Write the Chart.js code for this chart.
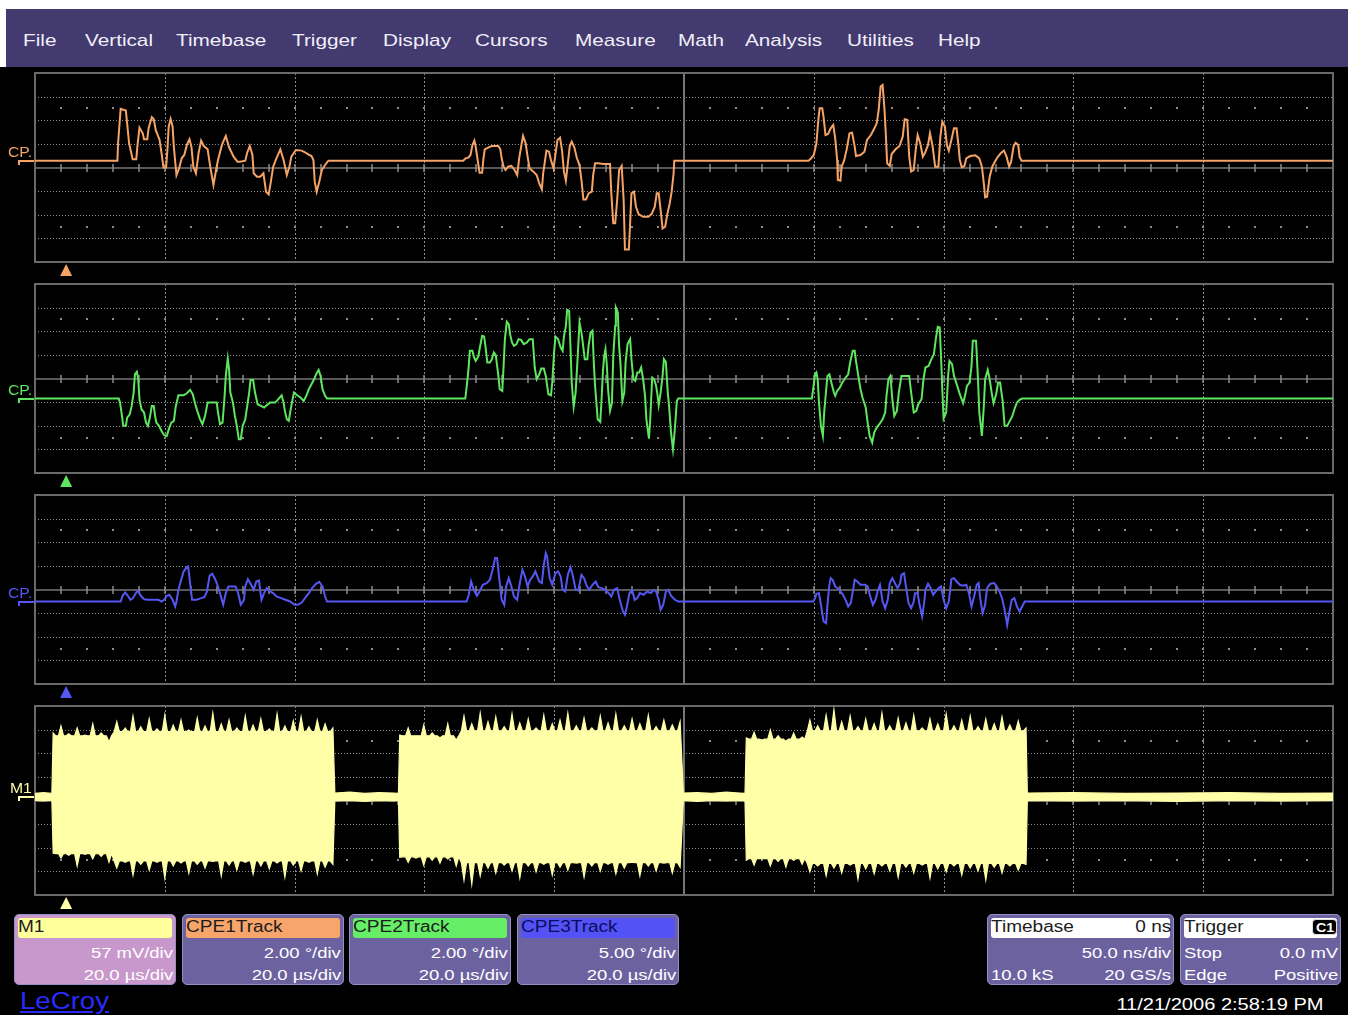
<!DOCTYPE html>
<html>
<head>
<meta charset="utf-8">
<title>LeCroy – CPE tracking</title>
<script src="https://cdn.jsdelivr.net/npm/chart.js@4.4.1/dist/chart.umd.min.js"></script>
<style>
  html, body { margin:0; padding:0; background:#000; }
  body { position:relative; width:1348px; height:1015px; overflow:hidden; font-family:"Liberation Sans", Arial, sans-serif; }
  .abs { position:absolute; }
  .t { position:absolute; white-space:nowrap; }
  #topband { left:0; top:0; width:1348px; height:9px; background:#fff; }
  #leftband { left:0; top:9px; width:6px; height:58px; background:#fff; }
  #menubar { left:6px; top:9px; width:1342px; height:58px; background:#433a70; }
  .box { position:absolute; top:914px; height:71px; border-radius:5px; background:#6c62a0; border:1px solid #9790c4; box-sizing:border-box; }
  .hdr { position:absolute; left:3px; right:3px; top:3px; height:20px; border-radius:3px; }
  .panel { position:absolute; left:0; }
  #c1 { position:absolute; left:1312px; top:919px; width:25px; height:16px; border-radius:4px; background:#000; border:1px solid #ddd; box-sizing:border-box; }
</style>
</head>
<body>
<div id="topband" class="abs"></div>
<div id="leftband" class="abs"></div>
<div id="menubar" class="abs"></div>

<div class="box" style="left:14px;width:162px;background:#c898cc;"><div class="hdr" style="background:#ffff9c;"></div></div>
<div class="box" style="left:182px;width:162px;"><div class="hdr" style="background:#f7a56b;"></div></div>
<div class="box" style="left:349px;width:162px;"><div class="hdr" style="background:#66ee66;"></div></div>
<div class="box" style="left:517px;width:162px;"><div class="hdr" style="background:#5252f5;"></div></div>
<div class="box" style="left:987px;width:187px;"><div class="hdr" style="background:#ffffff;"></div></div>
<div class="box" style="left:1180px;width:161px;"><div class="hdr" style="background:#ffffff;"></div></div>
<div id="c1"></div>

<script>
// ---- Menu and readout text -------------------------------------------------
const menuItems = ["File", "Vertical", "Timebase", "Trigger", "Display", "Cursors", "Measure", "Math", "Analysis", "Utilities", "Help"];
const menuX     = [22.5, 85, 176, 292, 383, 475, 574.5, 678, 745, 847, 938];

const traceLabels = ["M1", "CPE1Track", "CPE2Track", "CPE3Track"];
const verticalScales = ["57 mV/div", "2.00 °/div", "2.00 °/div", "5.00 °/div"];
const horizontalScales = ["20.0 µs/div", "20.0 µs/div", "20.0 µs/div", "20.0 µs/div"];
const timestamp = "11/21/2006 2:58:19 PM";

// ---- Waveform data: time in µs (0..200, 20 µs/div) ---------------------------
// CPE1Track, degrees (2.00 °/div)
const cpe1Track = [
  [0,0.58],[12.7,0.58],[12.8,2.05],[13.2,4.96],[14.0,4.82],[14.5,2.05],[15.05,0.69],[15.6,0.69],[15.8,1.91],[16.1,3.38],
  [16.6,2.9],[16.8,2.39],[17.3,2.39],[17.5,3.32],[18.0,4.25],[18.3,4.08],[18.6,3.18],[19.2,2.33],[19.5,1.2],[19.8,0.01],
  [20.2,0.01],[20.4,1.48],[20.6,3.46],[20.9,4.11],[21.2,3.46],[21.4,1.71],[21.8,-0.64],[22.2,-0.07],[22.6,0.78],[23.0,1.06],
  [23.4,1.91],[23.8,2.39],[24.1,1.77],[24.4,0.07],[24.8,-0.49],[25.2,1.2],[25.6,2.27],[26.0,1.82],[26.6,1.54],[27.0,0.07],
  [27.5,-1.48],[27.9,-0.21],[28.2,0.64],[28.8,1.91],[29.4,2.67],[29.9,1.71],[30.6,0.92],[31.2,0.49],[31.6,0.49],[32.4,0.58],
  [32.7,1.26],[33.1,1.82],[33.5,1.06],[33.7,-0.49],[34.2,-0.78],[34.7,-0.78],[35.2,-0.49],[35.6,-2.05],[36.0,-2.27],[36.3,-1.34],
  [36.7,0.07],[37.2,0.78],[37.8,1.54],[38.3,0.64],[38.8,-0.64],[39.2,0.07],[39.5,0.92],[40.2,1.48],[41.1,1.43],[41.6,1.29],
  [42.1,1.12],[42.6,0.97],[42.9,0.64],[43.1,-1.2],[43.4,-2.05],[43.8,-1.2],[44.2,-0.21],[44.7,0.21],[45.2,0.58],
  [66.0,0.58],[66.3,0.75],[66.8,0.86],[67.1,1.06],[67.4,1.91],[67.7,2.27],[67.9,1.77],[68.2,0.64],[68.5,-0.44],[68.9,-0.44],
  [69.1,0.78],[69.3,1.54],[69.9,1.71],[70.4,1.82],[71.4,1.82],[71.7,1.54],[71.9,0.78],[72.2,0.07],[72.5,-0.21],[72.9,0.07],
  [73.4,0.13],[73.9,-0.21],[74.3,-0.64],[74.6,0.78],[75.0,2.05],[75.2,2.67],[75.6,2.05],[75.9,0.92],[76.2,-0.07],[76.8,-0.35],
  [77.3,-0.64],[77.7,-1.34],[78.1,-1.85],[78.3,-0.49],[78.6,0.64],[78.8,1.43],[79.2,1.34],[79.5,0.64],[79.9,-0.07],[80.2,1.14],
  [80.5,2.33],[80.9,2.53],[81.2,1.48],[81.5,-0.35],[81.8,-1.12],[82.1,0.35],[82.4,1.82],[82.7,2.19],[83.1,1.71],[83.5,0.78],
  [83.9,0.21],[84.2,-1.06],[84.5,-2.70],[84.9,-2.70],[85.3,-2.19],[85.8,-2.05],[86.0,-0.64],[86.3,0.35],[86.8,0.35],[87.6,0.30],
  [88.6,0.30],[88.8,-2.19],[89.1,-4.73],[89.4,-4.73],[89.7,-2.75],[90.0,-0.21],[90.4,0.13],[90.7,-2.75],[90.9,-6.94],[91.5,-6.94],
  [91.7,-4.73],[91.9,-2.19],[92.3,-2.05],[92.6,-3.32],[93.0,-3.94],[93.7,-4.17],[94.5,-4.17],[95.0,-3.94],[95.5,-3.32],[95.8,-2.19],
  [96.1,-2.19],[96.4,-3.60],[96.7,-5.16],[97.1,-5.01],[97.4,-4.03],[97.8,-3.04],[98.1,-2.05],[98.4,-0.49],[98.5,0.58],
  [119.2,0.58],[119.6,0.78],[120.0,1.06],[120.4,2.05],[120.7,4.03],[120.9,5.01],[121.3,5.01],[121.5,4.31],[121.8,2.75],[122.2,2.84],
  [122.6,3.32],[123.0,3.60],[123.3,2.47],[123.6,0.64],[123.7,-1.06],[124.1,-1.12],[124.3,0.07],[124.7,0.64],[125.1,1.62],[125.5,2.90],
  [125.9,2.95],[126.3,1.77],[126.5,0.97],[127.2,1.06],[127.8,1.34],[128.2,2.33],[128.8,2.75],[129.2,3.18],[129.7,3.74],[130.0,4.87],
  [130.3,6.85],[130.6,6.99],[130.9,4.87],[131.1,2.75],[131.3,0.35],[131.7,0.13],[132.0,1.14],[132.6,1.54],[133.2,1.82],[133.7,2.61],
  [134.0,4.08],[134.4,4.03],[134.7,0.92],[135.0,-0.35],[135.4,-0.21],[135.7,1.48],[136.0,2.75],[136.4,2.05],[136.8,0.92],[137.1,1.20],
  [137.6,1.91],[137.9,2.90],[138.3,1.82],[138.7,0.07],[139.2,0.07],[139.5,2.61],[139.8,3.88],[140.2,3.46],[140.5,1.91],[140.8,1.43],
  [141.2,2.33],[141.6,3.32],[142.0,3.32],[142.3,1.82],[142.5,0.64],[142.8,0.01],[143.2,0.13],[143.5,0.78],[144.1,0.97],[144.9,1.03],
  [145.5,0.78],[145.9,0.07],[146.2,-1.34],[146.4,-2.53],[146.7,-2.47],[147.1,-0.78],[147.5,0.07],[147.9,0.49],[148.3,0.86],[148.8,1.20],
  [149.3,1.43],[149.7,0.92],[150.1,0.07],[150.4,0.49],[150.8,1.82],[151.1,2.10],[151.5,1.91],[151.7,0.92],[152.0,0.58],[200,0.58]
];

// CPE2Track, degrees (2.00 °/div)
const cpe2Track = [
  [0,-1.70],[12.9,-1.70],[13.1,-2.04],[13.4,-3.17],[13.6,-4.01],[14.0,-4.01],[14.2,-3.31],[14.6,-3.03],[14.9,-2.32],[15.2,-1.19],
  [15.4,0.36],[15.7,0.56],[15.9,-0.06],[16.1,-1.75],[16.4,-2.60],[16.8,-2.88],[17.1,-3.73],[17.4,-4.01],[17.7,-3.31],[18.0,-2.32],
  [18.3,-2.32],[18.5,-3.17],[18.7,-3.73],[19.1,-4.01],[19.5,-4.44],[19.9,-4.80],[20.3,-4.86],[20.7,-4.16],[21.0,-3.73],[21.4,-3.59],
  [21.7,-2.32],[22.1,-1.42],[22.9,-1.42],[23.4,-1.25],[23.9,-0.96],[24.3,-1.33],[24.7,-2.18],[25.0,-2.74],[25.4,-3.39],[25.8,-3.87],
  [26.2,-3.17],[26.6,-2.04],[27.2,-2.04],[28.0,-2.04],[28.2,-2.88],[28.5,-3.87],[28.9,-3.73],[29.2,-1.61],[29.4,0.22],[29.7,1.69],
  [29.9,0.79],[30.1,-1.19],[30.5,-2.04],[30.8,-3.17],[31.1,-4.01],[31.4,-5.14],[31.7,-5.14],[32.0,-4.01],[32.4,-3.45],[32.7,-2.32],
  [33.0,-1.19],[33.2,-0.12],[33.6,-0.12],[33.9,-1.19],[34.3,-2.18],[34.8,-2.32],[35.3,-2.46],[35.7,-2.26],[36.2,-2.04],[37.0,-2.04],
  [37.5,-1.75],[38.0,-1.42],[38.3,-2.04],[38.5,-2.74],[38.8,-3.45],[39.1,-3.59],[39.4,-2.60],[39.7,-1.75],[39.9,-1.19],[40.4,-1.42],
  [40.9,-1.61],[41.4,-1.90],[41.8,-1.47],[42.2,-0.90],[42.6,-0.48],[43.0,-0.06],[43.4,0.45],[43.7,0.73],[44.0,0.22],[44.3,-0.90],
  [44.7,-1.47],[45.0,-1.70],
  [66.3,-1.70],[66.5,-0.77],[66.8,0.84],[67.0,2.34],[67.4,2.34],[67.6,1.86],[67.9,1.49],[68.3,1.86],[68.6,2.77],[68.9,3.61],
  [69.2,3.56],[69.4,2.77],[69.7,1.35],[70.1,1.35],[70.4,1.64],[70.7,2.20],[71.0,1.97],[71.4,0.22],[71.6,-0.91],[72.0,-1.05],
  [72.2,1.01],[72.4,3.33],[72.7,4.80],[73.0,4.60],[73.2,3.75],[73.5,3.05],[73.8,2.77],[74.2,2.91],[74.5,3.33],[74.9,3.27],
  [75.3,2.91],[75.8,3.05],[76.2,3.33],[76.7,3.33],[77.0,0.93],[77.3,-0.06],[77.7,0.36],[78.0,0.84],[78.4,0.84],[78.7,0.22],
  [79.1,-1.33],[79.5,-1.42],[79.7,-0.34],[80.0,2.34],[80.2,3.56],[80.6,3.33],[81.0,2.62],[81.3,2.34],[81.5,3.56],[81.8,4.46],
  [82.0,5.82],[82.3,5.73],[82.5,2.77],[82.7,-0.34],[83.0,-2.38],[83.3,-1.19],[83.6,1.64],[83.9,4.74],[84.2,3.89],[84.4,3.05],
  [84.7,1.64],[85.1,1.64],[85.3,2.77],[85.6,3.89],[85.9,4.04],[86.1,1.35],[86.3,-0.62],[86.7,-3.45],[87.1,-3.67],[87.3,-1.75],
  [87.5,0.51],[87.7,1.92],[87.9,2.48],[88.1,1.21],[88.3,-0.90],[88.6,-2.74],[88.9,-2.04],[89.1,1.92],[89.4,4.46],[89.5,6.01],
  [89.8,5.59],[90.0,2.77],[90.2,1.35],[90.5,-1.90],[90.8,-1.19],[91.0,1.35],[91.3,2.91],[91.7,3.33],[91.9,1.64],[92.2,-0.06],
  [92.5,-0.20],[92.8,0.51],[93.1,0.51],[93.4,0.93],[93.7,-0.06],[94.0,-1.47],[94.2,-3.45],[94.6,-5.09],[94.8,-3.45],[95.1,0.08],
  [95.4,-0.06],[95.7,-0.62],[95.9,-1.33],[96.1,-2.26],[96.4,-1.19],[96.7,0.22],[96.9,1.64],[97.2,1.41],[97.5,-1.19],[97.7,-2.32],
  [98.0,-4.58],[98.3,-5.99],[98.5,-4.86],[98.7,-3.45],[98.9,-1.90],[99.1,-1.70],
  [119.7,-1.70],[119.9,-0.91],[120.2,0.36],[120.4,0.51],[120.6,-0.06],[120.8,-2.04],[121.1,-4.01],[121.4,-4.86],[121.6,-2.88],[121.8,-1.61],
  [122.1,0.22],[122.4,0.36],[122.7,-0.34],[123.1,-1.19],[123.3,-1.47],[123.6,-1.05],[124.0,-0.77],[124.4,-0.34],[124.9,0.08],[125.3,0.36],
  [125.6,1.35],[126.0,2.34],[126.3,2.34],[126.5,1.49],[126.9,0.08],[127.2,-0.91],[127.5,-1.61],[128.0,-2.46],[128.3,-3.73],[128.6,-4.86],
  [129.0,-5.43],[129.3,-4.58],[129.7,-4.16],[130.1,-3.87],[130.6,-3.45],[131.0,-2.88],[131.2,-1.47],[131.5,-0.06],[131.8,0.22],[132.1,-1.75],
  [132.4,-3.17],[132.8,-2.74],[133.1,-1.19],[133.5,0.22],[134.0,0.22],[134.7,0.22],[135.0,-1.19],[135.4,-2.88],[135.8,-2.74],[136.1,-2.18],
  [136.6,-1.75],[136.9,-0.06],[137.2,0.93],[137.7,1.07],[138.0,1.49],[138.5,2.06],[138.8,3.33],[139.1,4.38],[139.4,4.32],[139.6,1.92],
  [139.8,-0.91],[140.0,-3.39],[140.4,-2.88],[140.7,0.22],[140.9,1.49],[141.3,1.21],[141.6,0.22],[142.1,-0.62],[142.5,-1.33],[143.0,-2.09],
  [143.3,-1.47],[143.6,-0.62],[144.0,-0.34],[144.3,1.07],[144.5,3.19],[145.0,3.19],[145.3,-0.06],[145.5,-2.88],[145.9,-4.86],[146.2,-2.32],
  [146.4,-0.06],[146.8,0.73],[147.1,-0.06],[147.4,-1.19],[147.7,-2.09],[148.1,-1.33],[148.4,-0.34],[148.7,-0.34],[149.1,-1.90],[149.4,-4.01],
  [149.8,-4.01],[150.2,-3.59],[150.6,-3.17],[151.0,-2.46],[151.3,-2.04],[151.7,-1.81],[152.1,-1.70],[200,-1.70]
];

// CPE3Track, degrees (5.00 °/div)
const cpe3Track = [
  [0,-2.54],[13.2,-2.54],[13.5,-1.33],[13.9,-0.63],[14.3,-1.33],[14.7,-2.18],[15.1,-1.83],[15.6,-0.63],[15.9,-0.28],[16.3,-1.33],
  [16.8,-2.04],[17.3,-2.18],[18.3,-2.18],[19.0,-2.18],[19.5,-2.54],[19.9,-2.18],[20.3,-1.33],[20.7,-1.12],[21.2,-2.18],[21.6,-3.59],
  [21.8,-2.54],[22.1,-0.06],[22.5,1.91],[22.9,3.82],[23.4,4.74],[23.6,4.88],[23.9,1.35],[24.2,-2.18],[24.9,-2.18],[25.6,-1.83],
  [26.1,-1.62],[26.5,-0.42],[26.9,2.90],[27.3,3.33],[27.8,2.06],[28.2,0.64],[28.6,-1.33],[29.0,-3.24],[29.4,-0.77],[29.8,0.64],
  [30.4,0.64],[30.9,0.64],[31.3,-0.77],[31.7,-3.24],[32.2,-2.18],[32.4,0.64],[32.8,2.20],[33.3,1.00],[33.7,-0.06],[34.1,1.70],
  [34.5,1.91],[34.9,-2.18],[35.3,-0.77],[35.7,0.29],[36.2,-0.42],[36.7,-0.77],[37.2,-1.48],[37.9,-1.83],[38.6,-2.18],[39.3,-2.54],
  [40.0,-3.24],[40.5,-3.24],[41.1,-2.75],[41.6,-1.83],[42.2,-0.77],[42.7,0.29],[43.3,1.21],[43.8,1.63],[44.3,0.64],[44.7,-1.48],
  [45.0,-2.54],
  [66.5,-2.54],[66.8,-1.33],[67.2,1.70],[67.6,-0.06],[68.1,-1.33],[68.5,-0.42],[69.0,1.00],[69.6,1.35],[70.1,2.06],[70.5,4.17],
  [70.9,6.65],[71.2,6.65],[71.5,2.76],[71.9,-2.18],[72.3,-3.24],[72.6,0.64],[73.0,2.41],[73.4,0.64],[73.8,-1.48],[74.3,-2.18],
  [74.7,1.35],[75.1,4.17],[75.5,2.76],[75.9,0.64],[76.3,2.06],[76.7,2.76],[77.1,3.82],[77.7,1.70],[78.1,1.35],[78.4,5.23],
  [78.7,7.70],[78.9,7.00],[79.3,2.41],[79.7,1.00],[80.2,3.47],[80.6,3.82],[81.0,2.76],[81.3,-0.06],[81.7,-0.42],[82.1,3.11],
  [82.5,4.74],[82.9,2.76],[83.3,-0.06],[83.7,-0.20],[84.2,3.11],[84.6,2.41],[85.0,0.78],[85.4,-0.06],[85.9,1.00],[86.4,1.70],
  [86.8,0.50],[87.3,0.29],[87.9,-0.06],[88.4,-0.77],[88.8,-1.48],[89.2,-0.06],[89.7,0.29],[90.1,-2.18],[90.6,-4.65],[90.9,-5.36],
  [91.2,-3.59],[91.6,-0.77],[92.0,-0.06],[92.4,-2.18],[92.8,-1.83],[93.2,-0.77],[93.8,-1.12],[94.3,-0.42],[94.9,-0.77],[95.3,-0.06],
  [95.7,-0.42],[96.1,-2.18],[96.4,-4.30],[96.8,-3.24],[97.2,-0.42],[97.6,-0.06],[98.0,-1.33],[98.6,-2.18],[99.1,-2.54],
  [119.9,-2.54],[120.2,-1.83],[120.4,-0.91],[120.8,-0.77],[121.1,-3.24],[121.5,-6.77],[121.9,-7.13],[122.1,-3.24],[122.4,1.00],[122.6,2.41],
  [122.9,2.06],[123.3,0.64],[123.7,0.29],[124.1,-0.42],[124.5,-1.12],[124.9,-2.18],[125.3,-3.59],[125.7,-2.89],[126.1,0.29],[126.3,2.06],
  [126.7,1.70],[127.2,1.00],[127.9,1.00],[128.3,0.64],[128.7,-1.48],[129.1,-3.24],[129.5,-2.18],[129.9,-0.06],[130.2,1.00],[130.6,-2.54],
  [131.0,-3.95],[131.4,-2.18],[131.7,1.35],[132.1,2.41],[132.5,1.35],[132.9,0.29],[133.3,1.35],[133.5,3.11],[133.9,3.47],[134.2,0.64],
  [134.6,-2.89],[135.0,-3.95],[135.4,-2.54],[135.6,-0.77],[136.0,-0.77],[136.3,-3.24],[136.7,-5.71],[137.0,-2.89],[137.2,-0.06],[137.6,1.21],
  [138.0,0.29],[138.4,-1.12],[138.8,-0.42],[139.2,0.29],[139.6,0.64],[140.0,-2.18],[140.4,-3.95],[140.8,-2.54],[141.2,2.20],[141.6,2.41],
  [142.0,1.70],[142.5,1.00],[143.0,0.78],[143.5,1.00],[143.9,-0.77],[144.3,-3.59],[144.7,-1.48],[145.1,1.00],[145.4,1.35],[145.6,-1.48],
  [146.0,-5.01],[146.4,-3.24],[146.7,0.29],[147.2,1.21],[147.8,1.35],[148.2,0.64],[148.6,-0.42],[149.0,-1.83],[149.4,-4.30],[149.8,-7.49],
  [150.1,-5.01],[150.5,-2.18],[150.9,-1.83],[151.3,-3.59],[151.7,-4.65],[152.1,-3.59],[152.5,-2.54],[200,-2.54]
];

// M1: RF burst envelope in mV (57 mV/div) — spike tips sampled along each edge
const m1Time = [
  0,1.3,2.6,
  2.8,4.0,5.2,6.5,7.7,8.9,10.2,11.4,12.6,13.9,15.1,16.3,17.6,18.8,20.0,21.3,22.5,23.7,25.0,26.2,27.4,28.7,29.9,31.1,32.4,33.6,34.8,36.1,37.3,38.5,39.8,41.0,42.2,43.5,44.7,45.9,
  46.2,48.5,50.8,53.0,55.2,56.0,
  56.2,57.5,58.7,59.9,61.2,62.4,63.6,64.9,66.1,67.3,68.6,69.8,71.0,72.3,73.5,74.7,76.0,77.2,78.4,79.7,80.9,82.1,83.4,84.6,85.8,87.1,88.3,89.5,90.8,92.0,93.2,94.5,95.7,96.9,98.2,99.4,
  99.9,102.0,104.3,106.5,108.6,109.4,
  109.6,110.8,112.0,113.3,114.5,115.7,116.9,118.2,119.4,120.6,121.9,123.1,124.3,125.6,126.8,128.0,129.3,130.5,131.7,133.0,134.2,135.4,136.7,137.9,139.1,140.4,141.6,142.8,144.1,145.3,146.5,147.8,149.0,150.2,151.5,152.7,
  152.9,160,168,176,184,192,200
];
const m1Upper = [
  17,19,17,
  163,180,161,175,158,185,163,141,190,175,204,178,197,173,206,182,194,170,199,180,211,185,194,175,204,182,197,173,209,180,192,202,178,194,185,175,
  18,20,17,19,18,17,
  158,175,156,182,163,151,185,146,204,185,211,190,202,178,209,187,197,175,206,185,194,211,180,199,175,204,187,209,180,197,185,206,178,194,182,190,
  18,19,17,20,18,17,
  151,165,146,170,156,143,163,153,194,180,206,219,190,204,178,197,185,211,180,199,187,206,175,197,185,209,180,194,204,178,197,185,202,182,192,175,
  18,19,17,18,19,17,18
];
const m1Lower = [
  0,-1,1,
  -127,-139,-132,-158,-130,-141,-135,-149,-163,-149,-180,-154,-168,-149,-187,-158,-151,-175,-154,-163,-147,-182,-156,-168,-149,-177,-158,-165,-151,-185,-156,-170,-149,-177,-161,-154,
  -1,0,-2,0,-1,0,
  -137,-149,-139,-156,-144,-151,-141,-158,-192,-202,-182,-163,-175,-156,-170,-187,-158,-172,-154,-180,-161,-168,-151,-185,-158,-170,-154,-177,-163,-149,-182,-158,-170,-151,-175,-161,
  0,-2,0,-1,0,-1,
  -144,-156,-141,-158,-147,-161,-144,-154,-172,-158,-182,-163,-175,-156,-190,-165,-177,-158,-170,-185,-161,-175,-156,-187,-165,-172,-158,-180,-163,-170,-192,-161,-175,-158,-168,-154,
  0,-1,0,-2,0,-1,0
];
// Solid (fully filled) part of each burst, between the spikes, mV
const m1SolidStart = [2.8, 12.6, 56.2, 66.1, 109.6, 119.4];
const m1SolidEnd   = [12.5, 45.9, 64.9, 99.4, 118.2, 152.7];
const m1SolidUpper = [156, 166, 156, 168, 148, 168];
const m1SolidLower = [-128, -146, -136, -150, -140, -152];

// Trace offsets (reference marker level) and trigger point
const traceOffsets = [8, 0.58, -1.70, -2.54];
const triggerTime = 4.8;

// ---- Layout constants ---------------------------------------------------------
const PAGE_W = 1348;
const PANEL_TOP = [73, 284, 495, 706];
const PANEL_H = 189;
const PANEL_LEFT = 35, PANEL_RIGHT = 1333;
const PAD_T = 4, PAD_B = 20;
const GRID = '#8c8c8c';
const SPIKE_HALF = 0.4; // µs, half width of one envelope spike

// ---- Text helper --------------------------------------------------------------
function putText(str, x, base, size, color, o = {}) {
  const el = document.createElement('div');
  el.className = 't';
  el.textContent = str;
  el.style.fontSize = size + 'px';
  el.style.lineHeight = size + 'px';
  el.style.color = color;
  el.style.top = (base - 0.8465 * size) + 'px';
  if (o.right) {
    el.style.right = (PAGE_W - x) + 'px';
    el.style.transformOrigin = 'right center';
  } else {
    el.style.left = x + 'px';
    el.style.transformOrigin = 'left center';
  }
  el.style.transform = 'scaleX(' + (o.sx || 1) + ')';
  if (o.weight) el.style.fontWeight = o.weight;
  if (o.underline) el.style.textDecoration = 'underline';
  if (o.z) el.style.zIndex = o.z;
  document.body.appendChild(el);
  return el;
}

// menu bar
menuItems.forEach((m, i) => putText(m, menuX[i], 46, 17, '#f0eff8', { sx: 1.22 }));

// channel readout boxes
const boxLeft = [14, 182, 349, 517];
const boxRight = [173, 341, 508, 676];
const hdrColor = ['#1c1c1c', '#1c1c1c', '#1c1c1c', '#0c0c60'];
traceLabels.forEach((lab, i) => {
  putText(lab, boxLeft[i] + 4, 933, 16, hdrColor[i], { sx: 1.19 });
  putText(verticalScales[i], boxRight[i], 958, 15.5, '#ffffff', { right: true, sx: 1.19 });
  putText(horizontalScales[i], boxRight[i], 980, 15.5, '#ffffff', { right: true, sx: 1.19 });
});

// timebase box
putText('Timebase', 991, 933, 16, '#1c1c1c', { sx: 1.19 });
putText('0 ns', 1171, 933, 16, '#1c1c1c', { right: true, sx: 1.19 });
putText('50.0 ns/div', 1171, 958, 15.5, '#ffffff', { right: true, sx: 1.19 });
putText('10.0 kS', 991, 980, 15.5, '#ffffff', { sx: 1.19 });
putText('20 GS/s', 1171, 980, 15.5, '#ffffff', { right: true, sx: 1.19 });

// trigger box
putText('Trigger', 1184, 933, 16, '#1c1c1c', { sx: 1.19 });
putText('C1', 1316, 932, 13, '#ffffff', { sx: 1.1, weight: 'bold', z: 5 });
putText('Stop', 1184, 958, 15.5, '#ffffff', { sx: 1.19 });
putText('0.0 mV', 1338, 958, 15.5, '#ffffff', { right: true, sx: 1.19 });
putText('Edge', 1184, 980, 15.5, '#ffffff', { sx: 1.19 });
putText('Positive', 1338, 980, 15.5, '#ffffff', { right: true, sx: 1.19 });

// date and logo
putText(timestamp, 1323, 1010, 17, '#ffffff', { right: true, sx: 1.18 });
putText('LeCroy', 20, 1009, 23, '#2a2aff', { sx: 1.2, underline: true });

// ---- Graticule / markers plugin ----------------------------------------------
const scopePlugin = {
  id: 'scope',
  beforeDatasetsDraw(chart, args, o) {
    const { ctx, chartArea: a, scales: { x: xs, y: ys } } = chart;
    const divY = (ys.max - ys.min) / 8;
    const divX = (xs.max - xs.min) / 10;
    ctx.save();
    ctx.strokeStyle = GRID;
    ctx.fillStyle = GRID;
    ctx.lineWidth = 1;
    const seg = (x1, y1, x2, y2) => { ctx.beginPath(); ctx.moveTo(x1, y1); ctx.lineTo(x2, y2); ctx.stroke(); };

    // dotted major verticals
    ctx.setLineDash([2, 2]);
    for (let i = 1; i < 10; i++) {
      if (i === 5) continue;
      const px = Math.round(xs.getPixelForValue(xs.min + i * divX)) + 0.5;
      seg(px, a.top, px, a.bottom);
    }
    // dotted major horizontals
    ctx.setLineDash([1, 2]);
    for (let j = 1; j < 8; j++) {
      if (j === 4) continue;
      const py = Math.round(ys.getPixelForValue(ys.min + j * divY)) + 0.5;
      seg(a.left, py, a.right, py);
    }
    ctx.setLineDash([]);

    // rows of minor dots at ±2.5 div
    for (const k of [-2.5, 2.5]) {
      const py = Math.round(ys.getPixelForValue(k * divY));
      for (let m = 1; m < 50; m++) {
        const px = Math.round(xs.getPixelForValue(xs.min + m * divX / 5));
        ctx.fillRect(px - 1, py - 1, 2, 2);
      }
    }

    // centre cross
    ctx.strokeStyle = '#767676';
    ctx.lineWidth = 2;
    const cx = Math.round(xs.getPixelForValue(xs.min + 5 * divX));
    const cy = Math.round(ys.getPixelForValue(0));
    seg(cx, a.top, cx, a.bottom);
    ctx.lineWidth = 1.5;
    seg(a.left, cy, a.right, cy);

    // minor ticks on the horizontal centre line
    ctx.strokeStyle = GRID;
    ctx.lineWidth = 1.5;
    for (let m = 1; m < 50; m++) {
      const px = Math.round(xs.getPixelForValue(xs.min + m * divX / 5));
      seg(px, cy - 4, px, cy + 4);
    }

    // outer frame
    ctx.strokeStyle = '#6a6a6a';
    ctx.lineWidth = 2;
    ctx.strokeRect(a.left, a.top, a.right - a.left, a.bottom - a.top);
    ctx.restore();
  },
  afterDatasetsDraw(chart, args, o) {
    const { ctx, chartArea: a, scales: { x: xs, y: ys } } = chart;
    ctx.save();
    ctx.strokeStyle = o.color;
    ctx.fillStyle = o.color;
    // offset marker at the left edge
    const py = Math.round(ys.getPixelForValue(o.offset));
    ctx.lineWidth = 2;
    ctx.beginPath();
    ctx.moveTo(19, py + 4);
    ctx.lineTo(19, py);
    ctx.lineTo(a.left - 1, py);
    ctx.stroke();
    // trigger position triangle
    const tx = xs.getPixelForValue(o.trigger);
    ctx.beginPath();
    ctx.moveTo(tx, a.bottom + 2);
    ctx.lineTo(tx + 6, a.bottom + 14);
    ctx.lineTo(tx - 6, a.bottom + 14);
    ctx.closePath();
    ctx.fill();
    ctx.restore();
  }
};

function toXY(pairs) { return pairs.map(p => ({ x: p[0], y: p[1] })); }

// Index of the burst segment that contains time t, or -1 between bursts
function solidIndex(t) {
  for (let k = 0; k < m1SolidStart.length; k++) {
    if (t >= m1SolidStart[k] - 1e-6 && t <= m1SolidEnd[k] + 1e-6) return k;
  }
  return -1;
}

// Envelope edge: each sampled tip is drawn as a narrow spike standing on the solid level
function m1Edge(values, solid) {
  const out = [];
  m1Time.forEach((t, i) => {
    const k = solidIndex(t);
    if (k < 0) { out.push({ x: t, y: values[i] }); return; }
    const prevIn = i > 0 && solidIndex(m1Time[i - 1]) >= 0;
    const nextIn = i < m1Time.length - 1 && solidIndex(m1Time[i + 1]) >= 0;
    if (prevIn) out.push({ x: t - SPIKE_HALF, y: solid[k] });
    out.push({ x: t, y: values[i] });
    if (nextIn) out.push({ x: t + SPIKE_HALF, y: solid[k] });
  });
  return out;
}

function makePanel(idx, datasets, perDiv, color, offset, label) {
  const wrap = document.createElement('div');
  wrap.className = 'panel';
  wrap.style.top = (PANEL_TOP[idx] - PAD_T) + 'px';
  wrap.style.width = PAGE_W + 'px';
  wrap.style.height = (PANEL_H + PAD_T + PAD_B) + 'px';
  const cv = document.createElement('canvas');
  cv.width = PAGE_W;
  cv.height = PANEL_H + PAD_T + PAD_B;
  wrap.appendChild(cv);
  document.body.appendChild(wrap);

  const chart = new Chart(cv, {
    type: 'line',
    data: { datasets },
    options: {
      responsive: false,
      animation: false,
      events: [],
      layout: { padding: { left: PANEL_LEFT, right: PAGE_W - PANEL_RIGHT, top: PAD_T, bottom: PAD_B } },
      elements: { point: { radius: 0 }, line: { tension: 0 } },
      plugins: {
        legend: { display: false },
        tooltip: { enabled: false },
        scope: { color, offset, trigger: triggerTime }
      },
      scales: {
        x: { type: 'linear', min: 0, max: 200, display: false },
        y: { type: 'linear', min: -4 * perDiv, max: 4 * perDiv, display: false }
      }
    },
    plugins: [scopePlugin]
  });

  // channel label just above the offset marker
  const py = PANEL_TOP[idx] - PAD_T + chart.scales.y.getPixelForValue(offset);
  putText(label, label === 'M1' ? 10 : 8, py - 4, 15, color, { sx: 1.05 });
  return chart;
}

const ORANGE = '#f6a366', GREEN = '#5ee65e', BLUE = '#5656f2', YELLOW = '#ffffa8';

makePanel(0, [{ data: toXY(cpe1Track), borderColor: ORANGE, borderWidth: 2, fill: false }], 2, ORANGE, traceOffsets[1], 'CP.');
makePanel(1, [{ data: toXY(cpe2Track), borderColor: GREEN, borderWidth: 2, fill: false }], 2, GREEN, traceOffsets[2], 'CP.');
makePanel(2, [{ data: toXY(cpe3Track), borderColor: BLUE, borderWidth: 2, fill: false }], 5, BLUE, traceOffsets[3], 'CP.');
makePanel(3, [
  { data: m1Edge(m1Upper, m1SolidUpper), borderColor: YELLOW, backgroundColor: YELLOW, borderWidth: 1.2, fill: '+1' },
  { data: m1Edge(m1Lower, m1SolidLower), borderColor: YELLOW, borderWidth: 1.2, fill: false }
], 57, YELLOW, traceOffsets[0], 'M1');
</script>
</body>
</html>
